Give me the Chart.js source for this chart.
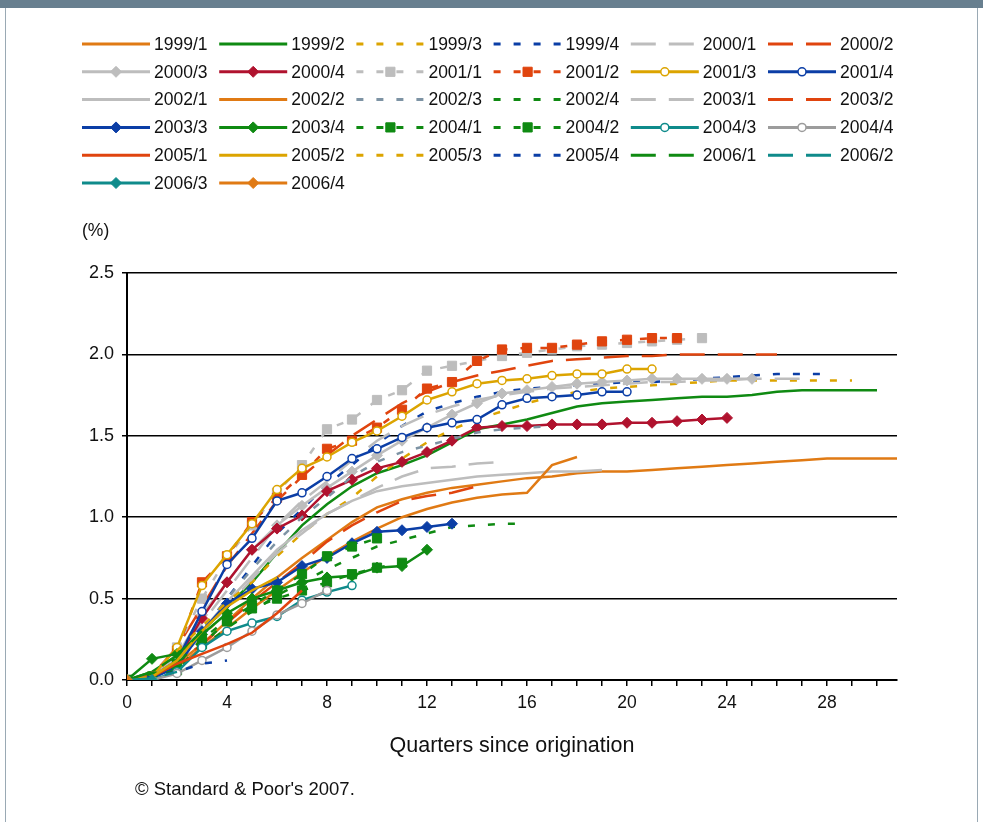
<!DOCTYPE html>
<html>
<head>
<meta charset="utf-8">
<script src="https://cdn.jsdelivr.net/npm/chart.js@4.4.0/dist/chart.umd.min.js"></script>
<style>
    html, body { margin: 0; padding: 0; background: #fff; }
    #frame { position: relative; width: 983px; height: 822px; overflow: hidden; background: #fff; }
    #topbar { position: absolute; left: 0; top: 0; width: 983px; height: 8px; background: #687f8f; }
    .side { position: absolute; top: 8px; bottom: 0; width: 1px; background: #9aa9b4; }
    #chart { position: absolute; left: 0; top: 0; }
</style>
</head>
<body>
<div id="frame">
    <div id="topbar"></div>
    <div class="side" style="left:5px"></div>
    <div class="side" style="left:977px"></div>
    <canvas id="chart" width="983" height="822"></canvas>
</div>
<script>
// cumulative default rate (%) by quarters since origination, one array per vintage
const vintages = ['1999/1', '1999/2', '1999/3', '1999/4', '2000/1', '2000/2',
    '2000/3', '2000/4', '2001/1', '2001/2', '2001/3', '2001/4',
    '2002/1', '2002/2', '2002/3', '2002/4', '2003/1', '2003/2',
    '2003/3', '2003/4', '2004/1', '2004/2', '2004/3', '2004/4',
    '2005/1', '2005/2', '2005/3', '2005/4', '2006/1', '2006/2',
    '2006/3', '2006/4'];

const v1999q1 = [0, 0.02, 0.1, 0.22, 0.36, 0.5, 0.63, 0.75, 0.86, 0.97, 1.06, 1.11, 1.15, 1.18, 1.2, 1.22, 1.24, 1.25, 1.27, 1.28, 1.28, 1.29, 1.3, 1.31, 1.32, 1.33, 1.34, 1.35, 1.36, 1.36, 1.36, 1.36];
const v1999q2 = [0, 0.05, 0.15, 0.3, 0.45, 0.6, 0.78, 0.95, 1.08, 1.19, 1.27, 1.32, 1.38, 1.46, 1.54, 1.57, 1.6, 1.64, 1.68, 1.7, 1.71, 1.72, 1.73, 1.74, 1.74, 1.75, 1.77, 1.78, 1.78, 1.78, 1.78];
const v1999q3 = [0, 0.03, 0.12, 0.27, 0.42, 0.6, 0.76, 0.9, 1.02, 1.12, 1.25, 1.36, 1.46, 1.54, 1.6, 1.65, 1.7, 1.74, 1.77, 1.79, 1.8, 1.81, 1.82, 1.83, 1.84, 1.84, 1.84, 1.84, 1.84, 1.84];
const v1999q4 = [0, 0.02, 0.12, 0.3, 0.5, 0.7, 0.9, 1.05, 1.2, 1.32, 1.45, 1.56, 1.65, 1.7, 1.74, 1.77, 1.79, 1.8, 1.81, 1.82, 1.83, 1.83, 1.84, 1.85, 1.86, 1.87, 1.88, 1.88, 1.88];
const v2000q1 = [0, 0.03, 0.15, 0.35, 0.55, 0.75, 0.95, 1.1, 1.22, 1.35, 1.47, 1.56, 1.63, 1.68, 1.72, 1.75, 1.77, 1.79, 1.8, 1.81, 1.82, 1.83, 1.83, 1.84, 1.84, 1.85, 1.85, 1.85];
const v2000q2 = [0, 0.03, 0.2, 0.45, 0.7, 0.9, 1.1, 1.25, 1.38, 1.5, 1.6, 1.7, 1.77, 1.83, 1.87, 1.9, 1.93, 1.96, 1.97, 1.98, 1.99, 1.99, 2.0, 2.0, 2.0, 2.0, 2.0];
const v2000q3 = [0, 0.02, 0.15, 0.4, 0.6, 0.8, 0.95, 1.07, 1.18, 1.28, 1.38, 1.47, 1.55, 1.63, 1.7, 1.76, 1.78, 1.8, 1.82, 1.83, 1.84, 1.85, 1.85, 1.85, 1.85, 1.85];
const v2000q4 = [0, 0.02, 0.12, 0.38, 0.6, 0.8, 0.93, 1.01, 1.16, 1.23, 1.3, 1.34, 1.4, 1.47, 1.55, 1.56, 1.56, 1.57, 1.57, 1.57, 1.58, 1.58, 1.59, 1.6, 1.61];
const v2001q1 = [0, 0.02, 0.2, 0.5, 0.75, 0.95, 1.15, 1.32, 1.54, 1.6, 1.72, 1.78, 1.9, 1.93, 1.96, 1.99, 2.01, 2.03, 2.05, 2.06, 2.07, 2.08, 2.09, 2.1];
const v2001q2 = [0, 0.02, 0.18, 0.6, 0.76, 0.97, 1.12, 1.26, 1.42, 1.47, 1.55, 1.66, 1.79, 1.83, 1.96, 2.03, 2.04, 2.04, 2.06, 2.08, 2.09, 2.1, 2.1];
const v2001q3 = [0, 0.02, 0.2, 0.58, 0.77, 0.96, 1.17, 1.3, 1.37, 1.46, 1.53, 1.62, 1.72, 1.77, 1.82, 1.84, 1.85, 1.87, 1.88, 1.88, 1.91, 1.91];
const v2001q4 = [0, 0.02, 0.12, 0.42, 0.71, 0.87, 1.1, 1.15, 1.25, 1.36, 1.42, 1.49, 1.55, 1.58, 1.6, 1.69, 1.73, 1.74, 1.75, 1.77, 1.77];
const v2002q1 = [0, 0.02, 0.12, 0.3, 0.48, 0.64, 0.8, 0.92, 1.02, 1.1, 1.16, 1.19, 1.21, 1.23, 1.25, 1.26, 1.27, 1.28, 1.28, 1.29];
const v2002q2 = [0, 0.02, 0.08, 0.2, 0.32, 0.44, 0.55, 0.66, 0.76, 0.85, 0.93, 1.0, 1.05, 1.09, 1.12, 1.14, 1.15, 1.32, 1.37];
const v2002q3 = [0, 0.02, 0.12, 0.3, 0.5, 0.68, 0.85, 1.0, 1.12, 1.25, 1.34, 1.4, 1.44, 1.48, 1.52, 1.54, 1.55, 1.56];
const v2002q4 = [0, 0.02, 0.08, 0.2, 0.32, 0.42, 0.52, 0.6, 0.68, 0.75, 0.82, 0.86, 0.9, 0.94, 0.95, 0.96, 0.96];
const v2003q1 = [0, 0.02, 0.1, 0.28, 0.45, 0.62, 0.78, 0.9, 1.02, 1.1, 1.18, 1.25, 1.3, 1.31, 1.33, 1.34];
const v2003q2 = [0, 0.02, 0.1, 0.22, 0.35, 0.48, 0.6, 0.72, 0.85, 0.95, 1.03, 1.1, 1.13, 1.15, 1.19];
const v2003q3 = [0, 0.01, 0.08, 0.3, 0.47, 0.56, 0.6, 0.7, 0.75, 0.84, 0.91, 0.92, 0.94, 0.96];
const v2003q4 = [0, 0.13, 0.16, 0.28, 0.41, 0.5, 0.55, 0.6, 0.63, 0.64, 0.69, 0.7, 0.8];
const v2004q1 = [0, 0.02, 0.1, 0.25, 0.37, 0.44, 0.5, 0.55, 0.6, 0.65, 0.69, 0.72];
const v2004q2 = [0, 0.02, 0.06, 0.22, 0.36, 0.46, 0.55, 0.65, 0.76, 0.82, 0.87];
const v2004q3 = [0, 0, 0.05, 0.2, 0.3, 0.35, 0.39, 0.49, 0.54, 0.58];
const v2004q4 = [0, 0, 0.04, 0.12, 0.2, 0.3, 0.4, 0.47, 0.55];
const v2005q1 = [0, 0.02, 0.1, 0.16, 0.22, 0.29, 0.41, 0.55];
const v2005q2 = [0, 0.02, 0.12, 0.3, 0.45, 0.55, 0.63];
const v2005q3 = [0, 0.02, 0.18, 0.33, 0.48, 0.6];
const v2005q4 = [0, 0.02, 0.05, 0.1, 0.12];
const v2006q1 = [0, 0.05, 0.15, 0.3];
const v2006q2 = [0, 0.01, 0.05];
const v2006q3 = [0, 0];
const v2006q4 = [0];

const seriesValues = [v1999q1, v1999q2, v1999q3, v1999q4, v2000q1, v2000q2,
    v2000q3, v2000q4, v2001q1, v2001q2, v2001q3, v2001q4,
    v2002q1, v2002q2, v2002q3, v2002q4, v2003q1, v2003q2,
    v2003q3, v2003q4, v2004q1, v2004q2, v2004q3, v2004q4,
    v2005q1, v2005q2, v2005q3, v2005q4, v2006q1, v2006q2,
    v2006q3, v2006q4];

const yTicks = [0, 0.5, 1.0, 1.5, 2.0, 2.5];
const xLabelEvery = 4;

// styles: colour, dash kind, marker
const C = {
    orange: '#e07a14', green: '#0f8a12', gold: '#dca400', blue: '#0b3ea6',
    grey: '#bdbdbd', red: '#e0440e', crimson: '#b0122e', slate: '#7d93a4',
    teal: '#0f8b8b', dgrey: '#9c9c9c'
};
const styles = [
    [C.orange, 'solid', null], [C.green, 'solid', null], [C.gold, 'dash', null], [C.blue, 'dash', null], [C.grey, 'long', null], [C.red, 'long', null],
    [C.grey, 'solid', 'diamond'], [C.crimson, 'solid', 'diamond'], [C.grey, 'dash', 'square'], [C.red, 'dash', 'square'], [C.gold, 'solid', 'circle'], [C.blue, 'solid', 'circle'],
    [C.grey, 'solid', null], [C.orange, 'solid', null], [C.slate, 'dash', null], [C.green, 'dash', null], [C.grey, 'long', null], [C.red, 'long', null],
    [C.blue, 'solid', 'diamond'], [C.green, 'solid', 'diamond'], [C.green, 'dash', 'square'], [C.green, 'dash', 'square'], [C.teal, 'solid', 'circle'], [C.dgrey, 'solid', 'circle'],
    [C.red, 'solid', null], [C.gold, 'solid', null], [C.gold, 'dash', null], [C.blue, 'dash', null], [C.green, 'long', null], [C.teal, 'long', null],
    [C.teal, 'solid', 'diamond'], [C.orange, 'solid', 'diamond']
];
const dashes = { solid: [], dash: [7, 13], long: [25, 13] };
const markerStyle = { diamond: 'rectRot', square: 'rect', circle: 'circle' };
const markerRadius = { diamond: 5.5, square: 6.5, circle: 4 };

const FONT = "'Liberation Sans', Arial, sans-serif";

const datasets = vintages.map((name, i) => {
    const [color, dash, marker] = styles[i];
    return {
        label: name,
        data: seriesValues[i].map((v, q) => ({ x: q, y: v })),
        borderColor: color,
        borderWidth: 2.5,
        borderDash: dashes[dash],
        pointStyle: marker ? markerStyle[marker] : false,
        pointRadius: marker ? markerRadius[marker] : 0,
        pointBackgroundColor: marker === 'circle' ? '#fff' : color,
        pointBorderColor: color,
        pointBorderWidth: marker === 'circle' ? 1.5 : 1,
        marker: marker,
        tension: 0,
        fill: false,
        order: 100 - i
    };
});

function drawMarker(ctx, marker, x, y, color) {
    ctx.setLineDash([]);
    ctx.fillStyle = marker === 'circle' ? '#fff' : color;
    ctx.strokeStyle = color;
    ctx.lineWidth = marker === 'circle' ? 1.5 : 1;
    ctx.beginPath();
    if (marker === 'diamond') {
        const r = markerRadius.diamond;
        ctx.moveTo(x, y - r); ctx.lineTo(x + r, y); ctx.lineTo(x, y + r); ctx.lineTo(x - r, y); ctx.closePath();
    } else if (marker === 'square') {
        const s = markerRadius.square * Math.SQRT1_2;
        ctx.rect(x - s, y - s, 2 * s, 2 * s);
    } else {
        ctx.arc(x, y, markerRadius.circle, 0, Math.PI * 2);
    }
    ctx.fill();
    ctx.stroke();
}

// legend in 6 columns plus axis captions and source note
const decorations = {
    id: 'decorations',
    afterDraw(chart) {
        const ctx = chart.ctx;
        ctx.save();
        chart.data.datasets.forEach((ds, i) => {
            const col = i % 6, row = Math.floor(i / 6);
            const x0 = 82 + col * 137.2;
            const y = 44 + row * 27.8;
            ctx.strokeStyle = ds.borderColor;
            ctx.lineWidth = 3;
            ctx.setLineDash(ds.borderDash);
            ctx.beginPath();
            ctx.moveTo(x0, y);
            ctx.lineTo(x0 + 68, y);
            ctx.stroke();
            if (ds.marker) drawMarker(ctx, ds.marker, x0 + 34, y, ds.borderColor);
            ctx.setLineDash([]);
            ctx.fillStyle = '#111';
            ctx.font = '17.5px ' + FONT;
            ctx.textBaseline = 'middle';
            ctx.textAlign = 'left';
            ctx.fillText(ds.label, x0 + 72, y + 1);
        });

        ctx.fillStyle = '#111';
        ctx.font = '17.5px ' + FONT;
        ctx.textBaseline = 'middle';
        ctx.textAlign = 'left';
        ctx.fillText('(%)', 82, 231);
        ctx.font = '18.5px ' + FONT;
        ctx.fillText('\u00a9 Standard & Poor\'s 2007.', 135, 790);
        ctx.font = '21.5px ' + FONT;
        ctx.textAlign = 'center';
        ctx.fillText('Quarters since origination', 512, 746);
        ctx.restore();
    }
};

new Chart(document.getElementById('chart'), {
    type: 'line',
    data: { datasets: datasets },
    options: {
        responsive: false,
        animation: false,
        events: [],
        layout: { padding: { top: 273, right: 86, bottom: 0, left: 0 } },
        plugins: { legend: { display: false }, tooltip: { enabled: false } },
        scales: {
            x: {
                type: 'linear',
                min: 0,
                max: 30.8,
                afterFit(scale) { scale.height = 142; },
                border: { color: '#000', width: 2 },
                grid: { drawOnChartArea: false, color: '#000', lineWidth: 1.5, tickLength: 6 },
                ticks: {
                    stepSize: 1,
                    autoSkip: false,
                    maxRotation: 0,
                    includeBounds: false,
                    padding: 7,
                    color: '#111',
                    font: { family: FONT, size: 17.5 },
                    callback: v => (v % xLabelEvery === 0 ? String(v) : '')
                }
            },
            y: {
                min: yTicks[0],
                max: yTicks[yTicks.length - 1],
                afterFit(scale) { scale.width = 127; },
                afterBuildTicks(scale) { scale.ticks = yTicks.map(v => ({ value: v })); },
                border: { color: '#000', width: 2 },
                grid: { color: '#000', lineWidth: 1.5, tickLength: 5 },
                ticks: {
                    padding: 8,
                    color: '#111',
                    font: { family: FONT, size: 18 },
                    callback: v => v.toFixed(1)
                }
            }
        }
    },
    plugins: [decorations]
});
</script>
</body>
</html>
